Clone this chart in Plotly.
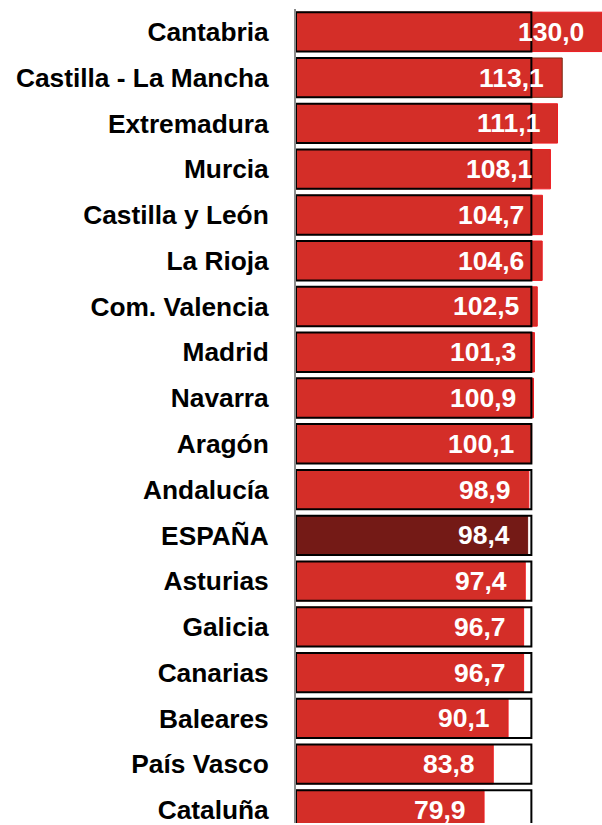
import plotly.graph_objects as go

regions = ["Cantabria", "Castilla - La Mancha", "Extremadura", "Murcia",
           "Castilla y León", "La Rioja", "Com. Valencia", "Madrid", "Navarra",
           "Aragón", "Andalucía", "ESPAÑA", "Asturias", "Galicia", "Canarias",
           "Baleares", "País Vasco", "Cataluña"]
values = [130.0, 113.1, 111.1, 108.1, 104.7, 104.6, 102.5, 101.3, 100.9,
          100.1, 98.9, 98.4, 97.4, 96.7, 96.7, 90.1, 83.8, 79.9]
reference = 100

RED = "#d42e28"
DARK = "#741a16"
fill_colors = [DARK if r == "ESPAÑA" else RED for r in regions]
line_colors = [DARK if r == "ESPAÑA" else ("#7a2a12" if r == "Castilla - La Mancha" else "#ee1c22")
               for r in regions]
labels = [f"{v:.1f}".replace(".", ",") for v in values]

fig = go.Figure()
fig.add_trace(go.Bar(
    x=values, y=regions, orientation="h", width=0.86,
    marker=dict(color=fill_colors, line=dict(color=line_colors, width=1)),
    hoverinfo="skip", showlegend=False,
))
fig.add_trace(go.Bar(
    x=[reference] * len(regions), y=regions, orientation="h", width=0.86,
    marker=dict(color="rgba(0,0,0,0)", line=dict(color="black", width=2)),
    hoverinfo="skip", showlegend=False,
))

for r, v, t in zip(regions, values, labels):
    fig.add_annotation(x=v, y=r, xref="x", yref="y", text=t, showarrow=False,
                       xanchor="right", yanchor="middle", xshift=-16,
                       font=dict(family="Liberation Sans, Arial", size=26.5,
                                 color="white", weight="bold"))

plot_h = 825 - 9
spacing = 45.88
fig.update_layout(
    width=602, height=825,
    margin=dict(l=296, r=0, t=9, b=0),
    barmode="overlay",
    plot_bgcolor="white", paper_bgcolor="white",
    xaxis=dict(range=[0, 130.0], showticklabels=False, showgrid=False,
               zeroline=False, showline=False, fixedrange=True),
    yaxis=dict(type="category", categoryorder="array", categoryarray=regions,
               range=[-0.5 + plot_h / spacing, -0.5],
               showgrid=False, zeroline=False, showline=True,
               linecolor="#8c8c8c", linewidth=2, ticks="",
               ticklabelstandoff=20, fixedrange=True,
               tickfont=dict(family="Liberation Sans, Arial", size=26.3,
                             color="black", weight="bold")),
)

fig.write_html("out.html",
               config={"displayModeBar": False},
               post_script="document.body.style.margin='0';"
                           "document.body.style.overflow='hidden';")
